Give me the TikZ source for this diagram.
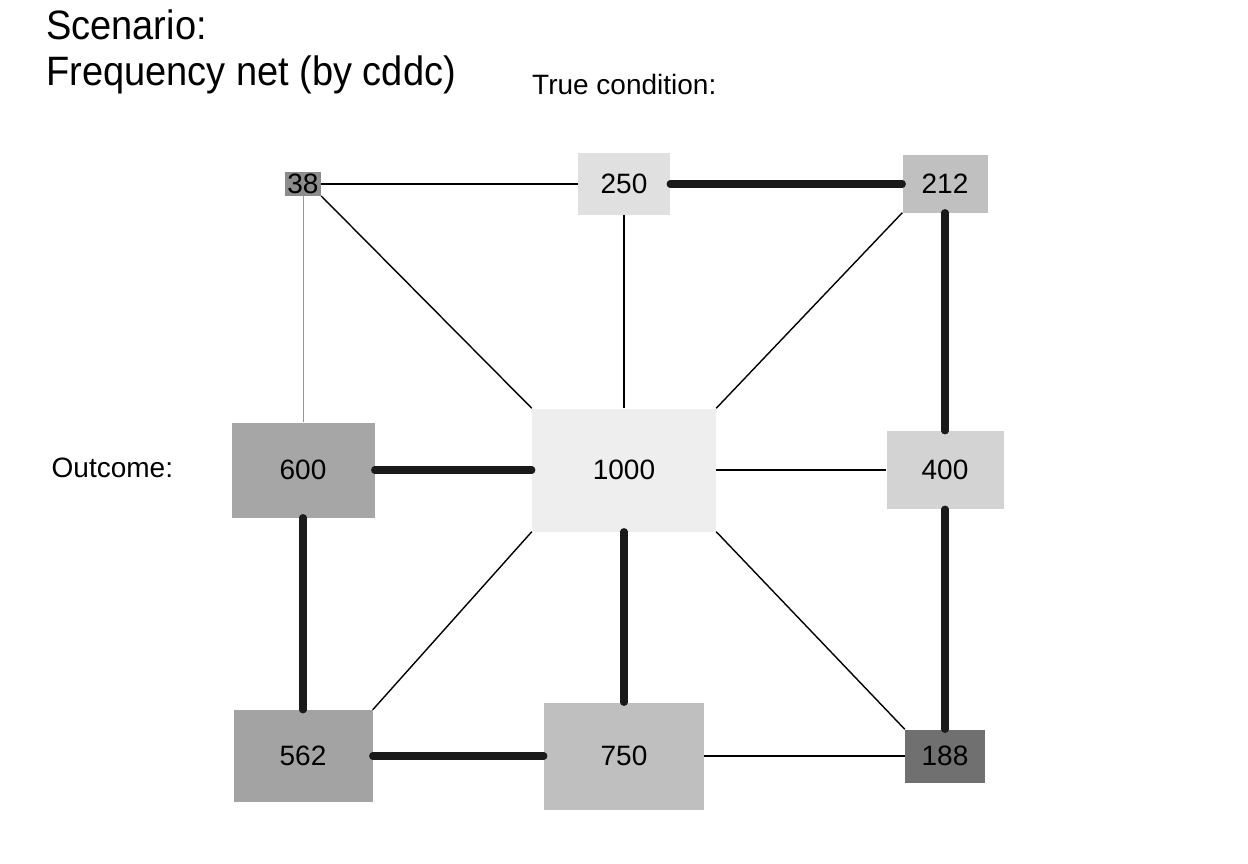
\documentclass[tikz,border=0pt]{standalone}
\usepackage{graphicx}
\usepackage{fontspec}
\setmainfont{Liberation Sans}
\definecolor{g1000}{RGB}{238,238,238}
\definecolor{g250}{RGB}{224,224,224}
\definecolor{g212}{RGB}{192,192,192}
\definecolor{g400}{RGB}{211,211,211}
\definecolor{g600}{RGB}{166,166,166}
\definecolor{g562}{RGB}{163,163,163}
\definecolor{g750}{RGB}{191,191,191}
\definecolor{g188}{RGB}{112,112,112}
\definecolor{g38}{RGB}{140,140,140}
\definecolor{edgedark}{RGB}{26,26,26}
\definecolor{edgegray}{RGB}{150,150,150}
\newcommand{\talltitle}[1]{\scalebox{1}[1.08]{#1}}
\begin{document}
\begin{tikzpicture}[x=1pt,y=-1pt,
  box/.style 2 args={draw=none, inner sep=0pt, minimum width=#1pt, minimum height=#2pt,
    font=\fontsize{28}{34}\selectfont, anchor=center},
  label/.style={inner sep=0pt, anchor=base west, font=\fontsize{28}{34}\selectfont},
  title/.style={inner sep=0pt, anchor=base west, font=\fontsize{38}{46}\selectfont},
  thinedge/.style={line width=1.4pt, black},
  grayedge/.style={line width=1pt, edgegray},
  fatedge/.style={line width=7.2pt, edgedark, line cap=round}]
\useasboundingbox (0,0) rectangle (1248,864);
% texts
\node[title] (t1) at (46,40) {\talltitle{Scenario:}};
\node[title] (t2) at (46,86) {\talltitle{Frequency net (by cddc)}};
\node[label] (t3) at (532,95) {True condition:};
\node[label] (t4) at (51.5,477) {Outcome:};
% boxes
\node[box={184}{123}, fill=g1000] (n1000) at (624,470) {1000};
\node[box={92}{62}, fill=g250] (n250) at (624,184) {250};
\node[box={85}{57}, fill=g212] (n212) at (945,184) {212};
\node[box={36}{23.5}, fill=g38] (n38) at (303,184) {38};
\node[box={143}{95}, fill=g600] (n600) at (303,470) {600};
\node[box={117}{78}, fill=g400] (n400) at (945,470) {400};
\node[box={139}{92}, fill=g562] (n562) at (303,756) {562};
\node[box={160}{107}, fill=g750] (n750) at (624,756) {750};
\node[box={80}{53}, fill=g188] (n188) at (945,756) {188};
% thin edges
\draw[thinedge] (n38) -- (n250);
\draw[grayedge] (n38) -- (n600);
\draw[thinedge] (n38.south east) -- (n1000.north west);
\draw[thinedge] (n250) -- (n1000);
\draw[thinedge] (n212.south west) -- (n1000.north east);
\draw[thinedge] (n1000) -- (n400);
\draw[thinedge] (n1000.south west) -- (n562.north east);
\draw[thinedge] (n1000.south east) -- (n188.north west);
\draw[thinedge] (n750) -- (n188);
% thick edges
\draw[fatedge] (n250) -- (n212);
\draw[fatedge] (n212) -- (n400);
\draw[fatedge] (n600) -- (n1000);
\draw[fatedge] (n1000) -- (n750);
\draw[fatedge] (n600) -- (n562);
\draw[fatedge] (n400) -- (n188);
\draw[fatedge] (n562) -- (n750);
\end{tikzpicture}
\end{document}
